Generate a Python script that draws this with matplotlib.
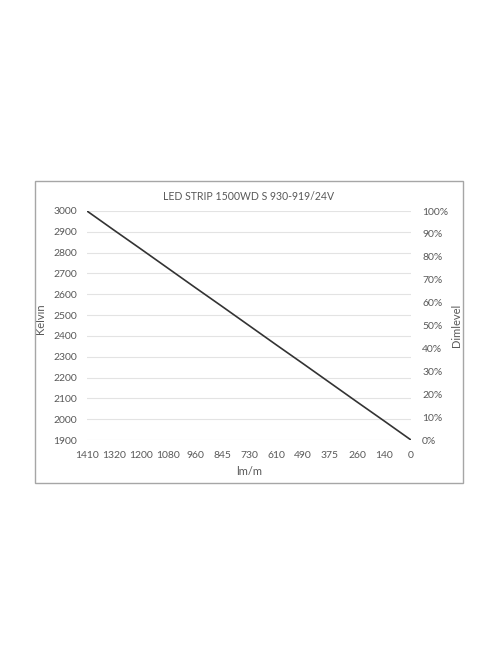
import matplotlib
matplotlib.use("Agg")
import matplotlib.pyplot as plt
from matplotlib.patches import Rectangle

plt.rcParams['font.family'] = ['Lato', 'DejaVu Sans']

# chart data
lumen_labels = ["1410", "1320", "1200", "1080", "960", "845", "730",
                "610", "490", "375", "260", "140", "0"]
kelvin = [3000, 2908, 2817, 2725, 2633, 2542, 2450, 2358, 2267, 2175, 2083, 1992, 1900]
kelvin_ticks = [1900, 2000, 2100, 2200, 2300, 2400, 2500, 2600, 2700, 2800, 2900, 3000]
dim_ticks = [0, 10, 20, 30, 40, 50, 60, 70, 80, 90, 100]

title = "LED STRIP 1500WD S 930-919/24V"
text_col = "#595959"

fig = plt.figure(figsize=(5, 6.67), dpi=100)
W, H = 500, 667

# outer chart frame
fig.patches.append(Rectangle((35 / W, 1 - 483 / H), (463 - 35) / W, (483 - 181) / H,
                             transform=fig.transFigure, fill=False,
                             edgecolor="#a6a6a6", linewidth=1.0))

ax = fig.add_axes([87 / W, 1 - 440 / H, (411 - 87) / W, (440 - 211) / H])
x = list(range(len(lumen_labels)))
ax.plot(x, kelvin, color="#333333", linewidth=1.2)

ax.set_xlim(0, len(lumen_labels) - 1)
ax.set_ylim(1900, 3000)
ax.set_yticks(kelvin_ticks)
ax.set_xticks(x)
ax.set_xticklabels(lumen_labels)
ax.grid(axis="y", color="#e3e3e3", linewidth=0.8)
ax.set_axisbelow(True)
for s in ax.spines.values():
    s.set_visible(False)
ax.tick_params(length=0, colors=text_col, labelsize=7.5)
ax.tick_params(axis="y", pad=7)
ax.tick_params(axis="x", pad=8)
ax.set_ylabel("Kelvin", color=text_col, fontsize=8, va="center")
ax.yaxis.set_label_coords(-0.145, 0.53)
ax.set_xlabel("lm/m", color=text_col, fontsize=8, labelpad=4)
ax.set_title(title, color=text_col, fontsize=7.6, pad=8)

ax2 = ax.twinx()
ax2.set_ylim(0, 100)
ax2.set_yticks(dim_ticks)
ax2.set_yticklabels([f"{v}%" for v in dim_ticks])
for s in ax2.spines.values():
    s.set_visible(False)
ax2.tick_params(length=0, colors=text_col, labelsize=7.5, pad=8)
ax2.set_ylabel("Dimlevel", color=text_col, fontsize=8, va="center", rotation=90)
ax2.yaxis.set_label_coords(1.139, 0.5)

fig.savefig("out.png", dpi=100)
